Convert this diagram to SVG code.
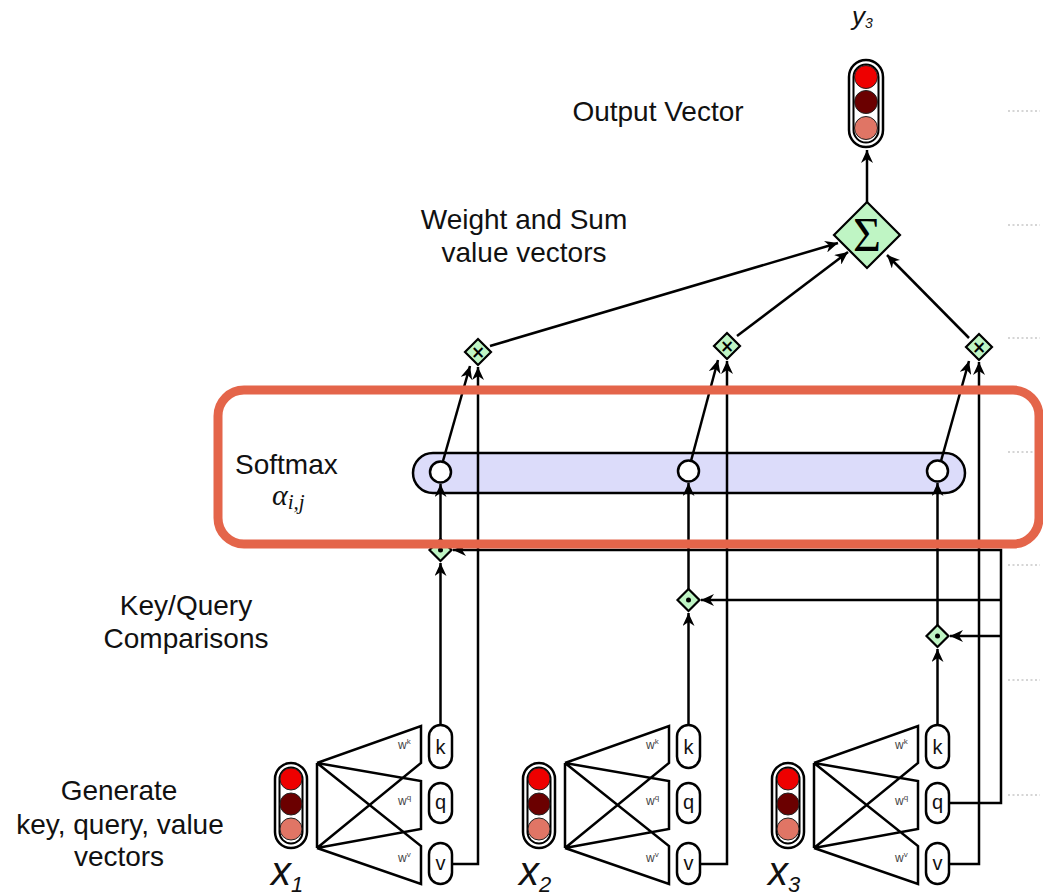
<svg xmlns="http://www.w3.org/2000/svg" width="1043" height="896" viewBox="0 0 1043 896">
<style>
.t{font-family:"Liberation Sans",Arial,sans-serif;font-size:28px;fill:#111}
.w{font-family:"Liberation Sans",Arial,sans-serif;font-size:12px;fill:#444}
.lbl{font-family:"Liberation Sans",Arial,sans-serif;font-size:20px;fill:#111;text-anchor:middle}
.ln{fill:none;stroke:#000;stroke-width:2.5}
.arr{fill:none;stroke:#000;stroke-width:2.5;marker-end:url(#ah)}
.pill{fill:#fff;stroke:#000;stroke-width:2.5}
.green{fill:#bff5c4;stroke:#000;stroke-width:2.2}
.c1{fill:#ee0000;stroke:#222;stroke-width:1}
.c2{fill:#6b0000;stroke:#222;stroke-width:1}
.c3{fill:#e07565;stroke:#222;stroke-width:1}
.dots{stroke:#c8c8c8;stroke-width:1.5;stroke-dasharray:2 2.5}
.xl{font-family:"Liberation Sans",sans-serif;font-style:italic;font-size:40px;fill:#111}
</style>
<defs>
<marker id="ah" markerUnits="userSpaceOnUse" markerWidth="14" markerHeight="12" refX="13" refY="6" orient="auto">
<path d="M0,0 L13,6 L0,12 L4,6 Z" fill="#000"/>
</marker>
<g id="vec">
<rect x="275" y="763" width="32" height="85" rx="16" class="pill"/>
<rect x="279.5" y="767.5" width="23" height="76" rx="11.5" fill="none" stroke="#000" stroke-width="2"/>
<circle cx="291" cy="779" r="11" class="c1"/>
<circle cx="291" cy="804" r="11" class="c2"/>
<circle cx="291" cy="829" r="11" class="c3"/>
</g>
</defs>
<rect width="1043" height="896" fill="#fff"/>

<g id="guides">
<line x1="1008" y1="111" x2="1040" y2="111" class="dots"/>
<line x1="1008" y1="225" x2="1040" y2="225" class="dots"/>
<line x1="1008" y1="338" x2="1040" y2="338" class="dots"/>
<line x1="1008" y1="452" x2="1040" y2="452" class="dots"/>
<line x1="1008" y1="565" x2="1040" y2="565" class="dots"/>
<line x1="1008" y1="680" x2="1040" y2="680" class="dots"/>
<line x1="1008" y1="795" x2="1040" y2="795" class="dots"/>
</g>

<g id="labels">
<text x="658" y="121" class="t" text-anchor="middle">Output Vector</text>
<text x="524" y="229" class="t" text-anchor="middle">Weight and Sum</text>
<text x="524" y="262" class="t" text-anchor="middle">value vectors</text>
<text x="235" y="474" class="t">Softmax</text>
<text x="272" y="505" font-family="'Liberation Serif',serif" font-style="italic" font-size="30" fill="#111">α<tspan font-size="21" dy="4">i,j</tspan></text>
<text x="186" y="615" class="t" text-anchor="middle">Key/Query</text>
<text x="186" y="648" class="t" text-anchor="middle">Comparisons</text>
<text x="119" y="800" class="t" text-anchor="middle">Generate</text>
<text x="120" y="834" class="t" text-anchor="middle">key, query, value</text>
<text x="119" y="866" class="t" text-anchor="middle">vectors</text>
<text x="852" y="25" font-family="'Liberation Sans',sans-serif" font-style="italic" font-size="26" fill="#111">y<tspan font-size="14" dy="3">3</tspan></text>
</g>

<g id="softmax">
<rect x="413" y="453" width="552" height="40" rx="20" fill="#dcdcfa" stroke="#000" stroke-width="2.5"/>
</g>

<g id="connectors">
<polyline points="452,864 478,864 478,367" class="arr"/>
<polyline points="700,864 727,864 727,361" class="arr"/>
<polyline points="949,864 979,864 979,362" class="arr"/>
<polyline points="949,803 1001,803 1001,550 453,550" class="arr"/>
<polyline points="1001,600 701,600" class="arr"/>
<polyline points="1001,636 950,636" class="arr"/>
<line x1="440.5" y1="725" x2="440.5" y2="563" class="arr"/>
<line x1="688.5" y1="725" x2="688.5" y2="613" class="arr"/>
<line x1="937.5" y1="725" x2="937.5" y2="649" class="arr"/>
<line x1="440.5" y1="539" x2="440.5" y2="484" class="arr"/>
<line x1="688.5" y1="589" x2="688.5" y2="483" class="arr"/>
<line x1="937.5" y1="625" x2="937.5" y2="483" class="arr"/>
<line x1="443" y1="461" x2="470" y2="366" class="arr"/>
<line x1="691" y1="461" x2="718" y2="360" class="arr"/>
<line x1="941" y1="461" x2="969" y2="361" class="arr"/>
<line x1="490" y1="346" x2="838" y2="243" class="arr"/>
<line x1="737" y1="336" x2="848" y2="252" class="arr"/>
<line x1="969" y1="338" x2="887" y2="255" class="arr"/>
<line x1="867" y1="202" x2="867" y2="150" class="arr"/>
</g>

<g id="alpha1"><circle cx="440.5" cy="472" r="10.5" fill="#fff" stroke="#000" stroke-width="2.5"/></g>
<g id="alpha2"><circle cx="688.5" cy="471" r="10.5" fill="#fff" stroke="#000" stroke-width="2.5"/></g>
<g id="alpha3"><circle cx="937.5" cy="471" r="10.5" fill="#fff" stroke="#000" stroke-width="2.5"/></g>

<g id="dot1"><path d="M440.5,539 L451.5,550 L440.5,561 L429.5,550 Z" class="green"/><circle cx="440.5" cy="550" r="2.5"/></g>
<g id="dot2"><path d="M688.5,589 L699.5,600 L688.5,611 L677.5,600 Z" class="green"/><circle cx="688.5" cy="600" r="2.5"/></g>
<g id="dot3"><path d="M937.5,625 L948.5,636 L937.5,647 L926.5,636 Z" class="green"/><circle cx="937.5" cy="636" r="2.5"/></g>

<g id="mul1"><path d="M478,339 L491,352 L478,365 L465,352 Z" class="green"/><text x="478" y="358" font-family="'DejaVu Sans',sans-serif" font-size="17" font-weight="bold" text-anchor="middle">×</text></g>
<g id="mul2"><path d="M727,333 L740,346 L727,359 L714,346 Z" class="green"/><text x="727" y="352" font-family="'DejaVu Sans',sans-serif" font-size="17" font-weight="bold" text-anchor="middle">×</text></g>
<g id="mul3"><path d="M979,334 L992,347 L979,360 L966,347 Z" class="green"/><text x="979" y="353" font-family="'DejaVu Sans',sans-serif" font-size="17" font-weight="bold" text-anchor="middle">×</text></g>

<g id="sum"><path d="M867,202 L900,235 L867,268 L834,235 Z" class="green"/><text x="867" y="251" font-family="'Liberation Serif',serif" font-size="48" text-anchor="middle">Σ</text></g>

<g id="y3">
<rect x="849" y="60" width="34" height="87" rx="17" class="pill"/>
<rect x="853.5" y="64.5" width="25" height="78" rx="12.5" fill="none" stroke="#000" stroke-width="2"/>
<circle cx="866" cy="77" r="11.5" class="c1"/>
<circle cx="866" cy="102" r="11.5" class="c2"/>
<circle cx="866" cy="128" r="11.5" class="c3"/>
</g>

<g id="x1">
<use href="#vec"/>
<path d="M317,763 L317,848 M317,763 L421,726 L421,763 L317,848 M317,763 L421,781 L421,829 L317,848 M317,763 L421,846 L421,884 L317,848" class="ln"/>
<text x="398" y="749" class="w">w<tspan font-size="8" dy="-5">k</tspan></text>
<text x="398" y="805" class="w">w<tspan font-size="8" dy="-5">q</tspan></text>
<text x="398" y="862" class="w">w<tspan font-size="8" dy="-5">v</tspan></text>
<rect x="429" y="725" width="23" height="43" rx="11.5" class="pill"/><text x="440.5" y="754" class="lbl">k</text>
<rect x="429" y="783" width="23" height="40" rx="11.5" class="pill"/><text x="440.5" y="809" class="lbl">q</text>
<rect x="429" y="843" width="23" height="41" rx="11.5" class="pill"/><text x="440.5" y="870" class="lbl">v</text>
<text x="271" y="885" class="xl">x<tspan font-size="22" dy="7">1</tspan></text>
</g>
<g id="x2" transform="translate(248,0)">
<use href="#vec"/>
<path d="M317,763 L317,848 M317,763 L421,726 L421,763 L317,848 M317,763 L421,781 L421,829 L317,848 M317,763 L421,846 L421,884 L317,848" class="ln"/>
<text x="398" y="749" class="w">w<tspan font-size="8" dy="-5">k</tspan></text>
<text x="398" y="805" class="w">w<tspan font-size="8" dy="-5">q</tspan></text>
<text x="398" y="862" class="w">w<tspan font-size="8" dy="-5">v</tspan></text>
<rect x="429" y="725" width="23" height="43" rx="11.5" class="pill"/><text x="440.5" y="754" class="lbl">k</text>
<rect x="429" y="783" width="23" height="40" rx="11.5" class="pill"/><text x="440.5" y="809" class="lbl">q</text>
<rect x="429" y="843" width="23" height="41" rx="11.5" class="pill"/><text x="440.5" y="870" class="lbl">v</text>
<text x="271" y="885" class="xl">x<tspan font-size="22" dy="7">2</tspan></text>
</g>
<g id="x3" transform="translate(497,0)">
<use href="#vec"/>
<path d="M317,763 L317,848 M317,763 L421,726 L421,763 L317,848 M317,763 L421,781 L421,829 L317,848 M317,763 L421,846 L421,884 L317,848" class="ln"/>
<text x="398" y="749" class="w">w<tspan font-size="8" dy="-5">k</tspan></text>
<text x="398" y="805" class="w">w<tspan font-size="8" dy="-5">q</tspan></text>
<text x="398" y="862" class="w">w<tspan font-size="8" dy="-5">v</tspan></text>
<rect x="429" y="725" width="23" height="43" rx="11.5" class="pill"/><text x="440.5" y="754" class="lbl">k</text>
<rect x="429" y="783" width="23" height="40" rx="11.5" class="pill"/><text x="440.5" y="809" class="lbl">q</text>
<rect x="429" y="843" width="23" height="41" rx="11.5" class="pill"/><text x="440.5" y="870" class="lbl">v</text>
<text x="271" y="885" class="xl">x<tspan font-size="22" dy="7">3</tspan></text>
</g>

<g id="highlight">
<rect x="218" y="390" width="821" height="154" rx="26" fill="none" stroke="#e4654a" stroke-width="9"/>
</g>
</svg>
